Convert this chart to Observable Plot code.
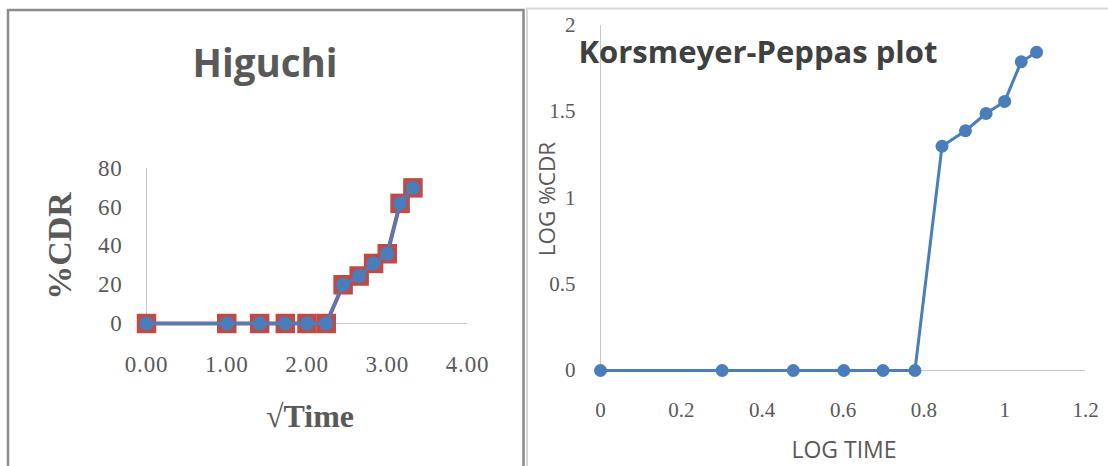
<!DOCTYPE html>
<html>
<head>
<meta charset="utf-8">
<script src="https://cdn.jsdelivr.net/npm/d3@7"></script>
<script src="https://cdn.jsdelivr.net/npm/@observablehq/plot@0.6"></script>
<style>
  html, body { margin: 0; padding: 0; background: #fff; }
  #wrap { position: relative; width: 1108px; height: 466px; overflow: hidden; background: #fff; }
  #wrap > div.p { position: absolute; top: 0; }
  #overlay { position: absolute; left: 0; top: 0; pointer-events: none; }
</style>
</head>
<body>
<div id="wrap">
  <div class="p" id="left" style="left:0px"></div>
  <div class="p" id="right" style="left:525px"></div>
  <svg id="overlay" width="1108" height="466"></svg>
</div>
<script>
// ---- Data ----
const sqrtTime = [0, 1, 1.41, 1.73, 2, 2.24, 2.45, 2.65, 2.83, 3, 3.16, 3.32];
const cdr      = [0, 0, 0, 0, 0, 0, 20, 24.5, 31, 36, 62, 70];
const logTime  = [0, 0.301, 0.477, 0.602, 0.699, 0.778, 0.845, 0.903, 0.954, 1.0, 1.041, 1.079];
const logCdr   = [0, 0, 0, 0, 0, 0, 1.30, 1.39, 1.49, 1.56, 1.79, 1.845];
const higuchiXTicks = [0, 1, 2, 3, 4];
const higuchiYTicks = [0, 20, 40, 60, 80];
const kpXTicks = [0, 0.2, 0.4, 0.6, 0.8, 1, 1.2];
const kpYTicks = [0, 0.5, 1, 1.5, 2];

const higuchi = sqrtTime.map((x, i) => ({x, y: cdr[i]}));
const kp = logTime.map((x, i) => ({x, y: logCdr[i]}));

const blue = "#4a7ebb", red = "#be4b48", axisGray = "#c8c8c8", textGray = "#595959";

// ---- Left: Higuchi ----
const left = Plot.plot({
  width: 525, height: 466,
  marginLeft: 146, marginRight: 58, marginTop: 168, marginBottom: 143,
  style: {fontFamily: "'Liberation Serif', 'DejaVu Serif', serif", fontSize: "23px", letterSpacing: "0.8px", color: textGray, background: "transparent"},
  x: {domain: [0, 4]},
  y: {domain: [0, 80]},
  marks: [
    Plot.ruleX([0], {y1: 0, y2: 80, stroke: axisGray, strokeWidth: 1}),
    Plot.ruleY([0], {x1: 0, x2: 4, stroke: axisGray, strokeWidth: 1}),
    Plot.axisX({ticks: higuchiXTicks, tickFormat: d => d.toFixed(2), tickSize: 0, tickPadding: 32, label: null}),
    Plot.axisY({ticks: higuchiYTicks, tickSize: 0, tickPadding: 24, label: null}),
    Plot.line(higuchi, {x: "x", y: "y", stroke: red, strokeWidth: 4}),
    Plot.dot(higuchi, {x: "x", y: "y", symbol: "square", r: 11, fill: red}),
    Plot.line(higuchi, {x: "x", y: "y", stroke: blue, strokeWidth: 3}),
    Plot.dot(higuchi, {x: "x", y: "y", r: 7, fill: blue})
  ]
});
document.getElementById("left").appendChild(left);

// ---- Right: Korsmeyer-Peppas ----
const right = Plot.plot({
  width: 583, height: 466,
  marginLeft: 75, marginRight: 23, marginTop: 25, marginBottom: 96,
  style: {fontFamily: "'Liberation Serif', 'DejaVu Serif', serif", fontSize: "21px", color: textGray, background: "transparent"},
  x: {domain: [0, 1.2]},
  y: {domain: [0, 2]},
  marks: [
    Plot.ruleX([0], {y1: 0, y2: 2, stroke: axisGray, strokeWidth: 1}),
    Plot.ruleY([0], {x1: 0, x2: 1.2, stroke: axisGray, strokeWidth: 1}),
    Plot.axisX({ticks: kpXTicks, tickFormat: d => String(d), tickSize: 0, tickPadding: 32, label: null}),
    Plot.axisY({ticks: kpYTicks, tickFormat: d => String(d), tickSize: 0, tickPadding: 25, label: null}),
    Plot.line(kp, {x: "x", y: "y", stroke: blue, strokeWidth: 3}),
    Plot.dot(kp, {x: "x", y: "y", r: 6.5, fill: blue})
  ]
});
document.getElementById("right").appendChild(right);

// ---- Frames and titles ----
const ov = d3.select("#overlay");
ov.append("path").attr("d", "M527,466 V8.5 H1110").attr("fill", "none").attr("stroke", "#d9d9d9").attr("stroke-width", 2);
ov.append("path").attr("d", "M8,470 V10 H523.5 V470").attr("fill", "none").attr("stroke", "#8c8c8c").attr("stroke-width", 2.5);

const sans = "'Open Sans', 'DejaVu Sans', sans-serif";
const serif = "'Liberation Serif', 'DejaVu Serif', serif";
ov.append("text").text("Higuchi").attr("x", 265).attr("y", 77).attr("text-anchor", "middle")
  .attr("font-family", sans).attr("font-weight", "bold").attr("font-size", 38.5).attr("fill", textGray);
ov.append("text").text("%CDR").attr("transform", "translate(71,246) rotate(-90)").attr("text-anchor", "middle")
  .attr("font-family", serif).attr("font-weight", "bold").attr("font-size", 34).attr("fill", textGray);
ov.append("text").text("√Time").attr("x", 310).attr("y", 427).attr("text-anchor", "middle")
  .attr("font-family", serif).attr("font-weight", "bold").attr("font-size", 32).attr("fill", textGray);

ov.append("text").text("Korsmeyer-Peppas plot").attr("x", 758).attr("y", 63).attr("text-anchor", "middle")
  .attr("font-family", sans).attr("font-weight", "bold").attr("font-size", 31).attr("fill", "#404040");
ov.append("text").text("LOG %CDR").attr("transform", "translate(555,199) rotate(-90)").attr("text-anchor", "middle")
  .attr("font-family", sans).attr("font-size", 22.5).attr("fill", textGray);
ov.append("text").text("LOG TIME").attr("x", 844).attr("y", 458).attr("text-anchor", "middle")
  .attr("font-family", sans).attr("font-size", 23).attr("fill", textGray);
</script>
</body>
</html>
